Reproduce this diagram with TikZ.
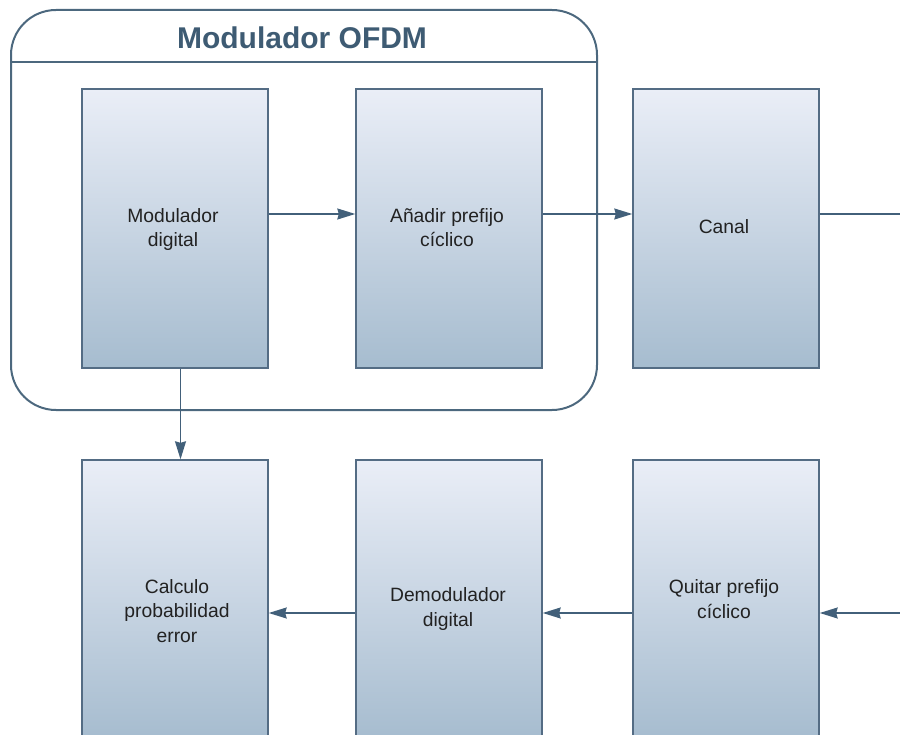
\documentclass[tikz,border=0pt]{standalone}
\usepackage{fontspec}
\setmainfont{Liberation Sans}
\usetikzlibrary{arrows.meta}
\definecolor{boxtop}{RGB}{234,238,247}
\definecolor{boxbot}{RGB}{166,188,207}
\definecolor{boxedge}{RGB}{84,108,132}
\definecolor{linec}{RGB}{66,96,122}
\definecolor{framec}{RGB}{76,104,126}
\definecolor{titlec}{RGB}{62,91,115}
\definecolor{txtc}{RGB}{34,34,34}
\tikzset{
  blk/.style={rectangle, draw=boxedge, line width=1.4pt, top color=boxtop, bottom color=boxbot,
    minimum width=186pt, minimum height=279pt, inner sep=0pt},
  lbl/.style={anchor=base, align=center, text=txtc, font=\fontsize{19.3}{24.5}\selectfont, inner sep=0pt},
  conn/.style={draw=linec, line width=1.5pt},
  arr/.style={conn, -{Stealth[length=18pt,width=11pt,inset=1.5pt]}},
  frm/.style={draw=framec, line width=2pt, rounded corners=45pt, minimum width=586pt, minimum height=400pt, inner sep=0pt}
}
\begin{document}
\begin{tikzpicture}[x=1pt,y=-1pt]
\useasboundingbox (0,0) rectangle (900,735);
\clip (0,0) rectangle (900,735);
% frame
\node[frm] (frame) at (304,210) {};
\coordinate (hl) at (11,62);
\coordinate (hr) at (597,62);
\draw[draw=framec, line width=2pt] (hl) -- (hr);
\node[anchor=base, text=titlec, font=\fontsize{30}{30}\selectfont\bfseries, inner sep=0pt] (title) at (302,49) {Modulador OFDM};
% top row
\node[blk] (m1) at (175,228.5) {};
\node[blk] (m2) at (449,228.5) {};
\node[blk] (m3) at (726,228.5) {};
% bottom row
\node[blk] (c) at (175,599.5) {};
\node[blk] (d) at (449,599.5) {};
\node[blk] (q) at (726,599.5) {};
% labels (base = last line baseline)
\node[lbl] (t1) at (173,247) {Modulador\\digital};
\node[lbl] (t2) at (447,247) {Añadir prefijo\\cíclico};
\node[lbl] (t3) at (724,234) {Canal};
\node[lbl] (t4) at (177,642) {Calculo\\probabilidad\\error};
\node[lbl] (t5) at (448,626) {Demodulador\\digital};
\node[lbl] (t6) at (724,618) {Quitar prefijo\\cíclico};
% connectors
\coordinate (outR) at (900,214);
\coordinate (inR) at (900,613);
\draw[arr] ([yshift=14.5pt]m1.east) -- ([yshift=14.5pt]m2.west);
\draw[arr] ([yshift=14.5pt]m2.east) -- ([yshift=14.5pt]m3.west);
\draw[conn] ([yshift=14.5pt]m3.east) -- (outR);
\draw[arr] (inR) -- ([yshift=-13.5pt]q.east);
\draw[arr] ([yshift=-13.5pt]q.west) -- ([yshift=-13.5pt]d.east);
\draw[arr] ([yshift=-13.5pt]d.west) -- ([yshift=-13.5pt]c.east);
\draw[arr] ([xshift=5.5pt]m1.south) -- ([xshift=5.5pt]c.north);
\end{tikzpicture}
\end{document}
